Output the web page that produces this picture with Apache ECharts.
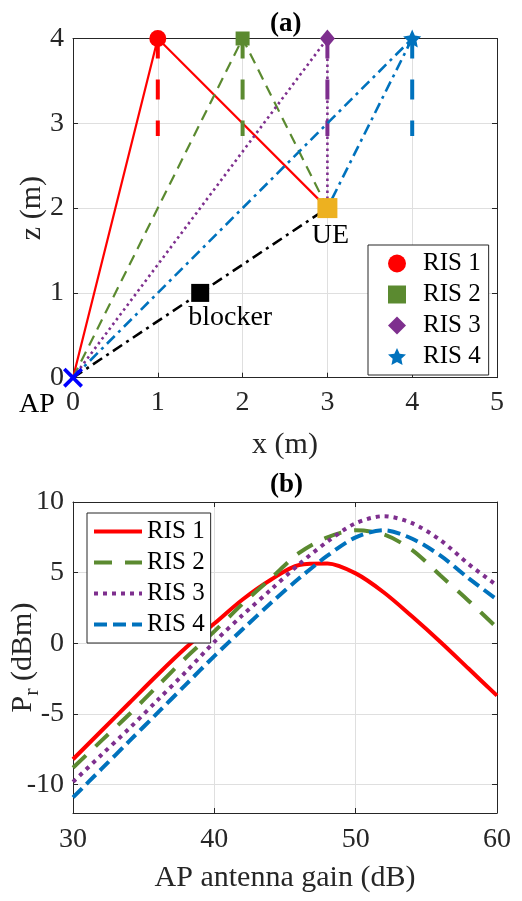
<!DOCTYPE html>
<html>
<head>
<meta charset="utf-8">
<title>RIS layout and received power</title>
<script src="https://cdn.jsdelivr.net/npm/echarts@6/dist/echarts.min.js"></script>
<style>
  html, body { margin: 0; padding: 0; background: #fff; }
  #chart { width: 522px; height: 901px; }
</style>
</head>
<body>
<div id="chart"></div>
<script>
// ---------- (a) geometry, metres ----------
var apPos = [0, 0];
var uePos = [3, 2];
var blockerPos = [1.5, 1];
var risNames = ['RIS 1', 'RIS 2', 'RIS 3', 'RIS 4'];
var risX = [1, 2, 3, 4];
var risZ = [4, 4, 4, 4];
var risStemEnd = 2.85;            // lower end of the thick dashed stem under each RIS

// ---------- (b) received power vs AP antenna gain ----------
var gainDb = [30, 32, 34, 36, 38, 40, 42, 44, 46, 48, 50, 52, 54, 56, 58, 60];
var prRis1 = [-8.2, -6.2, -4.2, -2.2, -0.3, 1.4, 3.1, 4.5, 5.55, 5.65, 4.95, 3.6, 1.9, 0.1, -1.8, -3.7];
var prRis2 = [-8.8, -6.9, -5.0, -3.0, -1.0, 0.85, 2.8, 4.6, 6.4, 7.5, 8.0, 7.7, 6.6, 4.8, 3.0, 1.1];
var prRis3 = [-9.8, -7.9, -6.0, -4.0, -2.0, 0.1, 2.0, 3.8, 5.6, 7.2, 8.5, 9.0, 8.5, 7.3, 5.6, 4.1];
var prRis4 = [-10.9, -8.9, -6.9, -4.9, -2.9, -0.9, 1.0, 2.85, 4.6, 6.2, 7.5, 8.0, 7.4, 6.2, 4.6, 3.1];
var yTicksB = [-10, -5, 0, 5, 10];

var colors = ['#FF0000', '#5B8A30', '#7E2F8E', '#0072BD'];
var axisColor = '#262626';
var gridColor = '#DFDFDF';
var serif = 'Liberation Serif';

var starPath = 'path://M10,0L12.82,6.12L19.51,6.91L14.57,11.48L15.88,18.09L10,14.8L4.12,18.09L5.43,11.48L0.49,6.91L7.18,6.12Z';
var crossPath = 'path://M0,1.3L1.3,0L5,3.7L8.7,0L10,1.3L6.3,5L10,8.7L8.7,10L5,6.3L1.3,10L0,8.7L3.7,5Z';
var risSymbols = ['circle', 'rect', 'diamond', starPath];
var risSizes = [17, 14, [15, 18], 18];

// line styles of the paths in (a) and the curves in (b)
var pathDash = ['solid', [11, 7], [2.5, 3.5], [11, 5, 3, 5]];
var pathWidth = [2.2, 2.2, 2.6, 2.6];
var curveDash = ['solid', [18, 13], [4, 5], [13, 6]];

var chart = echarts.init(document.getElementById('chart'));

function mainAxis(gi, min, max, interval, name, nameGap, labelMargin) {
  return {
    type: 'value', gridIndex: gi, min: min, max: max, interval: interval,
    name: name, nameLocation: 'middle', nameGap: nameGap, nameMoveOverlap: false,
    nameTextStyle: { fontFamily: serif, fontSize: 30, color: axisColor },
    axisLine: { onZero: false, lineStyle: { color: axisColor, width: 1 } },
    axisTick: { inside: true, length: 5, lineStyle: { color: axisColor } },
    axisLabel: { fontFamily: serif, fontSize: 28, color: axisColor, margin: labelMargin },
    splitLine: { show: true, lineStyle: { color: gridColor, width: 1 } }
  };
}
function mirror(gi, min, max, interval, pos) {
  return {
    type: 'value', gridIndex: gi, min: min, max: max, interval: interval, position: pos,
    axisLine: { show: true, onZero: false, lineStyle: { color: axisColor, width: 1 } },
    axisTick: { show: true, inside: true, length: 5, lineStyle: { color: axisColor } },
    axisLabel: { show: false }, splitLine: { show: false }
  };
}

var yA = mainAxis(0, 0, 4, 1, 'z (m)', 26, 9);
yA.nameRotate = 90;

var yB = {
  type: 'value', gridIndex: 1, min: -12, max: 10,
  name: '{p|P}{s|r}{p| (dBm)}', nameLocation: 'middle', nameGap: 30, nameRotate: 90,
  nameMoveOverlap: false,
  nameTextStyle: {
    rich: {
      p: { fontFamily: serif, fontSize: 30, color: axisColor },
      s: { fontFamily: serif, fontSize: 22, color: axisColor, padding: [18, 0, 0, 0] }
    }
  },
  axisLine: { onZero: false, lineStyle: { color: axisColor, width: 1 } },
  axisTick: { inside: true, length: 5, customValues: yTicksB, lineStyle: { color: axisColor } },
  axisLabel: { fontFamily: serif, fontSize: 28, color: axisColor, margin: 9, customValues: yTicksB },
  splitLine: { show: true, lineStyle: { color: gridColor, width: 1 } }
};
var yBRight = {
  type: 'value', gridIndex: 1, min: -12, max: 10, position: 'right',
  axisLine: { show: true, onZero: false, lineStyle: { color: axisColor, width: 1 } },
  axisTick: { show: true, inside: true, length: 5, customValues: yTicksB, lineStyle: { color: axisColor } },
  axisLabel: { show: false }, splitLine: { show: false }
};

var series = [];
risNames.forEach(function (name, i) {
  // AP -> RIS -> UE
  series.push({
    type: 'line', xAxisIndex: 0, yAxisIndex: 0, silent: true, z: 2,
    data: [apPos, [risX[i], risZ[i]], uePos], symbol: 'none',
    lineStyle: { color: colors[i], width: pathWidth[i], type: pathDash[i] }
  });
  // RIS stem
  series.push({
    type: 'line', xAxisIndex: 0, yAxisIndex: 0, silent: true, z: 2,
    data: [[risX[i], risZ[i]], [risX[i], risStemEnd]], symbol: 'none',
    lineStyle: { color: colors[i], width: 4, type: [20, 21], cap: 'butt' }
  });
});
// blocked direct path
series.push({
  type: 'line', xAxisIndex: 0, yAxisIndex: 0, silent: true, z: 2,
  data: [apPos, blockerPos, uePos], symbol: 'none',
  lineStyle: { color: '#000000', width: 2.6, type: [11, 5, 3, 5] }
});
risNames.forEach(function (name, i) {
  series.push({
    type: 'scatter', name: name, xAxisIndex: 0, yAxisIndex: 0, z: 4,
    data: [[risX[i], risZ[i]]], symbol: risSymbols[i], symbolSize: risSizes[i],
    itemStyle: { color: colors[i], opacity: 1 }
  });
});
function pointLabel(text, off) {
  return { show: true, formatter: text, position: 'inside', offset: off,
           fontFamily: serif, fontSize: 28, color: '#000' };
}
series.push({
  type: 'scatter', name: 'UE', xAxisIndex: 0, yAxisIndex: 0, z: 4,
  data: [uePos], symbol: 'rect', symbolSize: 20, itemStyle: { color: '#EDB120', opacity: 1 },
  label: pointLabel('UE', [3, 28])
});
series.push({
  type: 'scatter', name: 'blocker', xAxisIndex: 0, yAxisIndex: 0, z: 4,
  data: [blockerPos], symbol: 'rect', symbolSize: 18, itemStyle: { color: '#000000', opacity: 1 },
  label: pointLabel('blocker', [30, 25])
});
series.push({
  type: 'scatter', name: 'AP', xAxisIndex: 0, yAxisIndex: 0, z: 5,
  data: [apPos], symbol: crossPath, symbolSize: 20, itemStyle: { color: '#0000FF', opacity: 1 },
  label: pointLabel('AP', [-36, 27])
});

// (b) curves
[prRis1, prRis2, prRis3, prRis4].forEach(function (vals, i) {
  series.push({
    type: 'line', name: risNames[i] + ' (b)', xAxisIndex: 2, yAxisIndex: 2,
    data: gainDb.map(function (g, k) { return [g, vals[k]]; }),
    symbol: 'none', showSymbol: false, smooth: 0.3, z: 3,
    itemStyle: { color: colors[i] },
    lineStyle: { color: colors[i], width: 4, type: curveDash[i] }
  });
});

var option = {
  animation: false,
  backgroundColor: '#ffffff',
  textStyle: { fontFamily: serif },
  graphic: [
    { type: 'text', left: 270, top: 11, style: { text: '(a)', fontFamily: serif, fontSize: 27, fontWeight: 'bold', fill: '#000' } },
    { type: 'text', left: 270, top: 472, style: { text: '(b)', fontFamily: serif, fontSize: 27, fontWeight: 'bold', fill: '#000' } }
  ],
  grid: [
    { left: 73, top: 38.5, width: 424, height: 339.2, containLabel: false, outerBoundsMode: 'none' },
    { left: 73, top: 502, width: 424, height: 311, containLabel: false, outerBoundsMode: 'none' }
  ],
  xAxis: [
    mainAxis(0, 0, 5, 1, 'x (m)', 52, 11),
    mirror(0, 0, 5, 1, 'top'),
    mainAxis(1, 30, 60, 10, 'AP antenna gain (dB)', 50, 13),
    mirror(1, 30, 60, 10, 'top')
  ],
  yAxis: [
    yA,
    mirror(0, 0, 4, 1, 'right'),
    yB,
    yBRight
  ],
  legend: [
    {
      data: risNames, left: 368, top: 245, orient: 'vertical', selectedMode: false,
      backgroundColor: '#fff', borderColor: axisColor, borderWidth: 1,
      padding: [6, 8, 6, 20], itemGap: 6, itemWidth: 18, itemHeight: 18,
      textStyle: { fontFamily: serif, fontSize: 25, color: '#000', padding: [0, 0, 0, 12] }
    },
    {
      data: risNames.map(function (n) { return n + ' (b)'; }),
      formatter: function (n) { return n.replace(' (b)', ''); },
      left: 87, top: 513, orient: 'vertical', selectedMode: false,
      backgroundColor: '#fff', borderColor: axisColor, borderWidth: 1,
      padding: [6, 6, 6, 5], itemGap: 6, itemWidth: 48, itemHeight: 20,
      itemStyle: { opacity: 0 },
      lineStyle: { width: 4 },
      textStyle: { fontFamily: serif, fontSize: 25, color: '#000' }
    }
  ],
  series: series
};
chart.setOption(option);
</script>
</body>
</html>
